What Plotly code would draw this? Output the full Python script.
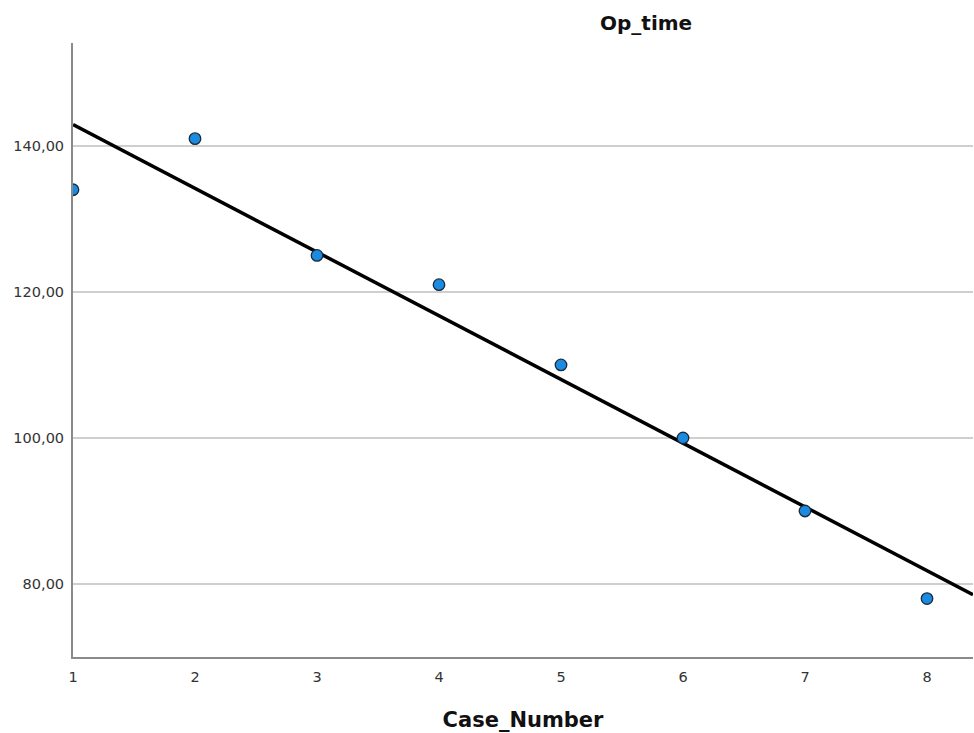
import numpy as np
import plotly.graph_objects as go

case_number = [1, 2, 3, 4, 5, 6, 7, 8]
op_time = [134, 141, 125, 121, 110, 100, 90, 78]
y_ticks = [80, 100, 120, 140]
y_tick_labels = ["80,00", "100,00", "120,00", "140,00"]
x_ticks = [1, 2, 3, 4, 5, 6, 7, 8]

x_range = [1, 8.377]
y_range = [70, 154.1]

slope, intercept = np.polyfit(case_number, op_time, 1)
fit_x = np.array(x_range)
fit_y = slope * fit_x + intercept

FONT = "DejaVu Sans, Liberation Sans, Arial, sans-serif"

fig = go.Figure()
fig.add_trace(go.Scatter(
    x=fit_x, y=fit_y, mode="lines",
    line=dict(color="black", width=3.5), hoverinfo="skip", showlegend=False,
))
fig.add_trace(go.Scatter(
    x=case_number, y=op_time, mode="markers",
    marker=dict(size=11.5, color="#1a8be0", line=dict(color="#1b2a3a", width=1.3)),
    showlegend=False,
))

fig.update_layout(
    width=974, height=733,
    margin=dict(l=73, r=1, t=43, b=76),
    paper_bgcolor="white", plot_bgcolor="white",
    font=dict(family=FONT, color="#333333", size=14.5),
    annotations=[dict(
        text="<b>Op_time</b>", x=0.637, xref="paper", y=1, yref="paper",
        yshift=20, showarrow=False, xanchor="center", yanchor="middle",
        font=dict(family=FONT, size=20, color="#111111"),
    )],
)
fig.update_xaxes(
    range=x_range, tickvals=x_ticks, showgrid=False, zeroline=False,
    showline=True, linecolor="#8a8a8a", linewidth=2,
    ticks="outside", ticklen=6, tickcolor="rgba(0,0,0,0)",
    tickfont=dict(family=FONT, size=14.5, color="#333333"),
    title=dict(text="<b>Case_Number</b>", font=dict(family=FONT, size=21, color="#111111"), standoff=28),
)
fig.update_yaxes(
    range=y_range, tickvals=y_ticks, ticktext=y_tick_labels,
    showgrid=True, gridcolor="#cfcfcf", gridwidth=2, zeroline=False,
    showline=True, linecolor="#8a8a8a", linewidth=2,
    ticks="outside", ticklen=4, tickcolor="rgba(0,0,0,0)",
    tickfont=dict(family=FONT, size=14.5, color="#333333"),
)

fig.write_html(
    "out.html",
    config={"displayModeBar": False},
    post_script="document.body.style.margin='0';document.documentElement.style.overflow='hidden';",
)
